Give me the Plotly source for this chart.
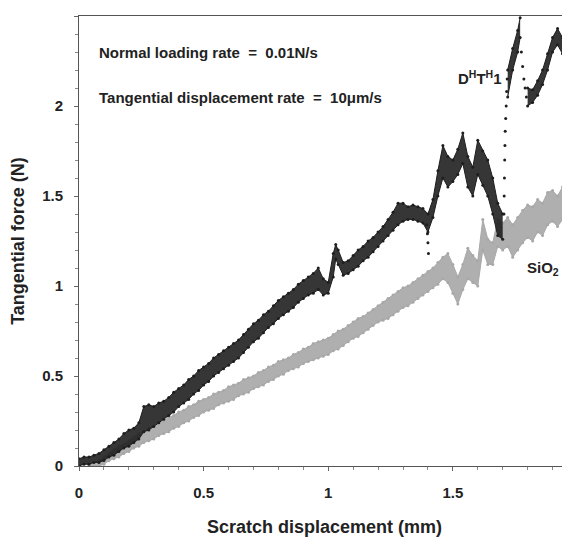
import plotly.graph_objects as go

# ---- D^H T^H 1 (black) : x, lower edge, upper edge of the noisy band ----
blk_x = [0.00, 0.02, 0.04, 0.06, 0.08, 0.10, 0.12, 0.14, 0.16, 0.18,
         0.20, 0.22, 0.24, 0.26, 0.28, 0.30, 0.32, 0.34, 0.36, 0.38,
         0.40, 0.42, 0.44, 0.46, 0.48, 0.50, 0.52, 0.54, 0.56, 0.58,
         0.60, 0.62, 0.64, 0.66, 0.68, 0.70, 0.72, 0.74, 0.76, 0.78,
         0.80, 0.82, 0.84, 0.86, 0.88, 0.90, 0.92, 0.94, 0.96, 0.98,
         1.00, 1.02, 1.03, 1.04, 1.06, 1.08, 1.10, 1.12, 1.14, 1.16,
         1.18, 1.20, 1.22, 1.24, 1.26, 1.28, 1.30, 1.32, 1.34, 1.36,
         1.38, 1.40, 1.42, 1.44, 1.46, 1.48, 1.50, 1.52, 1.54, 1.56,
         1.58, 1.60, 1.62, 1.64, 1.66, 1.68, 1.70, 1.72, 1.74, 1.76,
         1.77, 1.80, 1.82, 1.84, 1.86, 1.88, 1.90, 1.92, 1.94, 1.96]
blk_lo = [0.00, 0.01, 0.01, 0.02, 0.02, 0.03, 0.05, 0.06, 0.08, 0.10,
          0.11, 0.13, 0.15, 0.19, 0.20, 0.22, 0.24, 0.26, 0.28, 0.30,
          0.33, 0.35, 0.37, 0.40, 0.42, 0.45, 0.47, 0.50, 0.52, 0.54,
          0.56, 0.58, 0.60, 0.63, 0.66, 0.69, 0.71, 0.74, 0.77, 0.79,
          0.82, 0.84, 0.86, 0.88, 0.91, 0.93, 0.95, 0.96, 0.98, 0.95,
          0.96, 1.05, 1.15, 1.12, 1.06, 1.07, 1.09, 1.11, 1.14, 1.16,
          1.19, 1.22, 1.25, 1.28, 1.31, 1.34, 1.36, 1.37, 1.37, 1.36,
          1.35, 1.30, 1.38, 1.50, 1.60, 1.55, 1.58, 1.62, 1.68, 1.55,
          1.50, 1.62, 1.56, 1.50, 1.40, 1.28, 1.26, 2.05, 2.20, 2.30,
          2.38, 2.00, 2.02, 2.06, 2.12, 2.20, 2.30, 2.34, 2.29, 2.34]
blk_hi = [0.04, 0.05, 0.05, 0.06, 0.07, 0.09, 0.11, 0.13, 0.15, 0.18,
          0.20, 0.21, 0.24, 0.33, 0.34, 0.33, 0.35, 0.36, 0.38, 0.41,
          0.43, 0.45, 0.48, 0.50, 0.53, 0.55, 0.57, 0.60, 0.62, 0.64,
          0.66, 0.68, 0.70, 0.73, 0.76, 0.79, 0.81, 0.84, 0.86, 0.89,
          0.92, 0.94, 0.96, 0.98, 1.01, 1.03, 1.05, 1.07, 1.10, 1.04,
          1.02, 1.18, 1.23, 1.20, 1.13, 1.14, 1.17, 1.20, 1.22, 1.25,
          1.27, 1.30, 1.33, 1.37, 1.41, 1.46, 1.46, 1.44, 1.45, 1.44,
          1.43, 1.40, 1.48, 1.64, 1.78, 1.72, 1.70, 1.76, 1.85, 1.72,
          1.66, 1.81, 1.75, 1.70, 1.60, 1.46, 1.40, 2.20, 2.32, 2.42,
          2.49, 2.10, 2.09, 2.14, 2.20, 2.29, 2.38, 2.43, 2.38, 2.43]
# isolated black points (sudden drops / rises)
blk_sp_x = [1.395, 1.398, 1.400, 1.402, 1.705, 1.706, 1.707, 1.708, 1.709,
            1.710, 1.712, 1.714, 1.716, 1.718, 1.775, 1.780, 1.785, 1.790, 1.795]
blk_sp_y = [1.34, 1.29, 1.24, 1.18, 1.40, 1.50, 1.60, 1.70, 1.78,
            1.86, 1.93, 2.00, 2.08, 2.15, 2.30, 2.22, 2.15, 2.10, 2.05]

# ---- SiO2 (grey) ----
sio_x = [0.04, 0.06, 0.08, 0.10, 0.12, 0.14, 0.16, 0.18, 0.20, 0.22,
         0.24, 0.26, 0.28, 0.30, 0.32, 0.34, 0.36, 0.38, 0.40, 0.42,
         0.44, 0.46, 0.48, 0.50, 0.52, 0.54, 0.56, 0.58, 0.60, 0.62,
         0.64, 0.66, 0.68, 0.70, 0.72, 0.74, 0.76, 0.78, 0.80, 0.82,
         0.84, 0.86, 0.88, 0.90, 0.92, 0.94, 0.96, 0.98, 1.00, 1.02,
         1.04, 1.06, 1.08, 1.10, 1.12, 1.14, 1.16, 1.18, 1.20, 1.22,
         1.24, 1.26, 1.28, 1.30, 1.32, 1.34, 1.36, 1.38, 1.40, 1.42,
         1.44, 1.46, 1.48, 1.50, 1.52, 1.54, 1.56, 1.58, 1.60, 1.62,
         1.64, 1.66, 1.68, 1.70, 1.72, 1.74, 1.76, 1.78, 1.80, 1.82,
         1.84, 1.86, 1.88, 1.90, 1.92, 1.94, 1.96]
sio_lo = [0.00, 0.00, 0.00, 0.01, 0.03, 0.04, 0.05, 0.07, 0.08, 0.10,
          0.11, 0.13, 0.14, 0.15, 0.17, 0.18, 0.19, 0.21, 0.22, 0.24,
          0.25, 0.27, 0.28, 0.30, 0.31, 0.32, 0.34, 0.35, 0.36, 0.37,
          0.39, 0.40, 0.41, 0.43, 0.44, 0.45, 0.47, 0.48, 0.50, 0.51,
          0.53, 0.54, 0.55, 0.57, 0.58, 0.59, 0.60, 0.61, 0.62, 0.64,
          0.65, 0.67, 0.69, 0.71, 0.72, 0.74, 0.76, 0.78, 0.80, 0.81,
          0.82, 0.84, 0.86, 0.88, 0.89, 0.91, 0.93, 0.95, 0.97, 0.99,
          1.01, 1.04, 1.02, 0.96, 0.90, 0.98, 1.04, 1.02, 1.00, 1.20,
          1.12, 1.12, 1.22, 1.20, 1.22, 1.16, 1.20, 1.24, 1.27, 1.25,
          1.30, 1.28, 1.34, 1.36, 1.33, 1.37, 1.38]
sio_hi = [0.01, 0.02, 0.03, 0.05, 0.07, 0.09, 0.11, 0.12, 0.14, 0.16,
          0.18, 0.19, 0.21, 0.22, 0.24, 0.25, 0.27, 0.28, 0.30, 0.31,
          0.33, 0.34, 0.36, 0.37, 0.38, 0.40, 0.41, 0.42, 0.44, 0.45,
          0.46, 0.48, 0.49, 0.50, 0.52, 0.53, 0.55, 0.56, 0.58, 0.59,
          0.60, 0.62, 0.63, 0.65, 0.66, 0.68, 0.69, 0.70, 0.71, 0.73,
          0.75, 0.76, 0.78, 0.80, 0.82, 0.83, 0.85, 0.87, 0.89, 0.91,
          0.93, 0.95, 0.97, 0.99, 1.00, 1.02, 1.04, 1.06, 1.08, 1.10,
          1.13, 1.16, 1.18, 1.12, 1.05, 1.12, 1.21, 1.17, 1.14, 1.37,
          1.26, 1.24, 1.37, 1.35, 1.38, 1.34, 1.38, 1.42, 1.45, 1.44,
          1.48, 1.46, 1.52, 1.53, 1.50, 1.55, 1.56]

x_ticks = [0, 0.5, 1, 1.5]
x_ticklabels = ["0", "0.5", "1", "1.5"]
y_ticks = [0, 0.5, 1, 1.5, 2, 2.5]
y_ticklabels = ["0", "0.5", "1", "1.5", "2", "2.5"]

BLACK = "#1e1e1e"
GREY = "#a8a8a8"
FONT = "Liberation Sans, Arial, sans-serif"

# x positions where the black record jumps abruptly (band drawn in pieces)
blk_breaks = [1.71, 1.785]


def band(xs, lo, hi, color, fill, breaks=()):
    edges = [-1e9] + list(breaks) + [1e9]
    traces = []
    for a, b in zip(edges[:-1], edges[1:]):
        idx = [i for i, v in enumerate(xs) if a <= v < b]
        sx = [xs[i] for i in idx]
        slo = [lo[i] for i in idx]
        shi = [hi[i] for i in idx]
        traces.append(go.Scatter(x=sx, y=slo, mode="lines+markers",
                                 line=dict(color=color, width=1),
                                 marker=dict(size=3, color=color),
                                 hoverinfo="skip", showlegend=False))
        traces.append(go.Scatter(x=sx, y=shi, mode="lines+markers",
                                 fill="tonexty", fillcolor=fill,
                                 line=dict(color=color, width=1),
                                 marker=dict(size=3, color=color),
                                 showlegend=False))
    return traces


fig = go.Figure()
for tr in band(sio_x, sio_lo, sio_hi, GREY, "rgba(168,168,168,0.92)"):
    fig.add_trace(tr)
for tr in band(blk_x, blk_lo, blk_hi, BLACK, "rgba(32,32,32,0.9)", blk_breaks):
    fig.add_trace(tr)
fig.add_trace(go.Scatter(x=blk_sp_x, y=blk_sp_y, mode="markers",
                         marker=dict(size=3, color=BLACK), showlegend=False))

axis_common = dict(
    showgrid=False, zeroline=False, showline=True, linecolor="#555555",
    linewidth=1, ticks="outside", ticklen=4, tickwidth=1, tickcolor="#666666",
    automargin=False,
    tickfont=dict(family=FONT, size=15, color="#222222", weight="bold"),
    minor=dict(ticks="outside", ticklen=3, tickcolor="#888888", dtick=0.1),
)

fig.update_xaxes(range=[0, 1.97], tickvals=x_ticks, ticktext=x_ticklabels,
                 mirror=True, ticklabelstandoff=9,
                 title=dict(text="Scratch displacement (mm)", standoff=20,
                            font=dict(family=FONT, size=18, color="#222222",
                                      weight="bold")),
                 **axis_common)
fig.update_yaxes(range=[0, 2.5], tickvals=y_ticks, ticktext=y_ticklabels,
                 ticklabelstandoff=8,
                 title=dict(text="Tangential force (N)", standoff=12,
                            font=dict(family=FONT, size=18, color="#222222",
                                      weight="bold")),
                 **axis_common)

ann_font = dict(family=FONT, size=15, color="#222222", weight="bold")
fig.add_annotation(x=0.072, y=2.30, xanchor="left", yanchor="middle",
                   text="Normal loading rate  =  0.01N/s", showarrow=False,
                   font=ann_font)
fig.add_annotation(x=0.072, y=2.05, xanchor="left", yanchor="middle",
                   text="Tangential displacement rate  =  10\u03bcm/s",
                   showarrow=False, font=ann_font)
fig.add_annotation(x=1.61, y=2.16, xanchor="center", yanchor="middle",
                   text="D<sup>H</sup>T<sup>H</sup>1", showarrow=False,
                   font=ann_font)
fig.add_annotation(x=1.86, y=1.10, xanchor="center", yanchor="middle",
                   text="SiO<sub>2</sub>", showarrow=False, font=ann_font)

# page body adds an 8 px margin, so the figure is 8 px smaller on each axis
fig.update_layout(
    width=562, height=535,
    margin=dict(l=71, r=0, t=8, b=77, pad=0),
    plot_bgcolor="white", paper_bgcolor="white",
    showlegend=False,
)

fig.write_html("out.html")
